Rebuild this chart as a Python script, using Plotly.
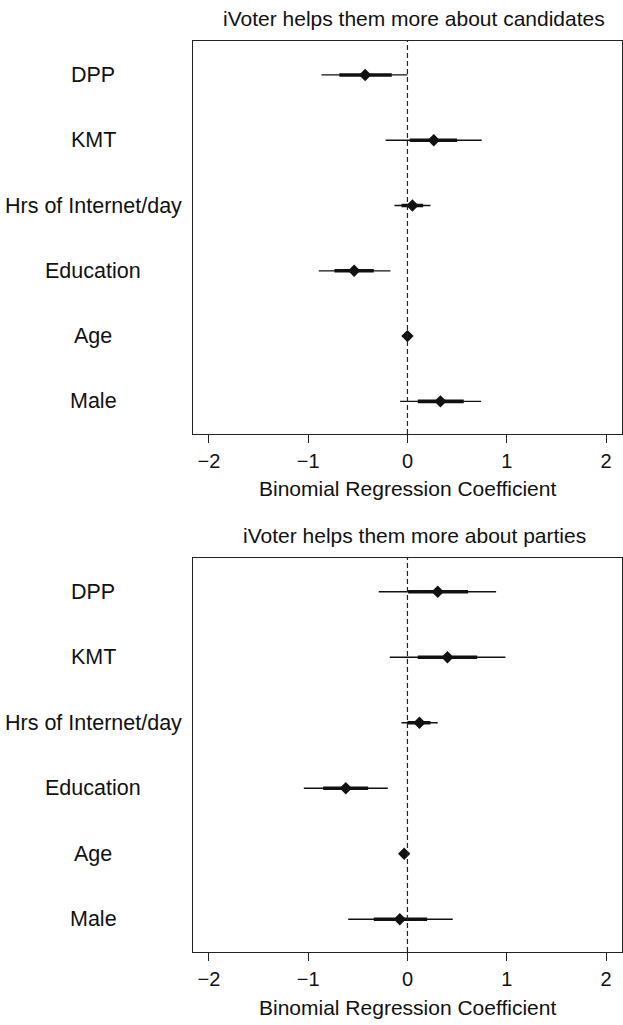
import plotly.graph_objects as go

# Row labels (top to bottom)
variables = ["DPP", "KMT", "Hrs of Internet/day", "Education", "Age", "Male"]

# Panel 1: iVoter helps them more about candidates
cand_coef = [-0.426, 0.265, 0.050, -0.537, 0.000, 0.332]
cand_lo95 = [-0.866, -0.220, -0.131, -0.893, -0.020, -0.074]
cand_hi95 = [0.000, 0.748, 0.232, -0.171, 0.020, 0.742]
cand_lo50 = [-0.686, 0.023, -0.060, -0.735, -0.010, 0.104]
cand_hi50 = [-0.158, 0.500, 0.158, -0.339, 0.010, 0.567]

# Panel 2: iVoter helps them more about parties
part_coef = [0.305, 0.403, 0.121, -0.621, -0.033, -0.077]
part_lo95 = [-0.289, -0.178, -0.060, -1.044, -0.065, -0.597]
part_hi95 = [0.893, 0.987, 0.305, -0.198, 0.000, 0.456]
part_lo50 = [0.007, 0.104, 0.000, -0.849, -0.050, -0.339]
part_hi50 = [0.611, 0.702, 0.232, -0.396, -0.015, 0.198]

titles = ["iVoter helps them more about candidates", "iVoter helps them more about parties"]
x_title = "Binomial Regression Coefficient"
x_ticks = [-2, -1, 0, 1, 2]

W, H = 623, 1025
FONT = "Liberation Sans, Arial, Helvetica, sans-serif"

fig = go.Figure()

panels = [
    (cand_coef, cand_lo95, cand_hi95, cand_lo50, cand_hi50),
    (part_coef, part_lo95, part_hi95, part_lo50, part_hi50),
]
# pixel geometry of the two boxes (top, bottom in px from top)
boxes = [(41, 434), (557.7, 952)]
xl, xr = 192.5, 621.7
title_y = [18, 535]
axtitle_y = [488, 1007]

for i, (coef, lo95, hi95, lo50, hi50) in enumerate(panels):
    xa = "x" if i == 0 else "x2"
    ya = "y" if i == 0 else "y2"
    # thin 95% interval
    fig.add_trace(go.Scatter(
        x=coef, y=variables, mode="markers", xaxis=xa, yaxis=ya,
        marker=dict(size=0.1, color="rgba(0,0,0,0)"),
        error_x=dict(type="data", symmetric=False,
                     array=[h - c for h, c in zip(hi95, coef)],
                     arrayminus=[c - l for c, l in zip(coef, lo95)],
                     width=0, thickness=1.3, color="#111"),
        showlegend=False, hoverinfo="skip"))
    # thick 50% interval
    fig.add_trace(go.Scatter(
        x=coef, y=variables, mode="markers", xaxis=xa, yaxis=ya,
        marker=dict(size=0.1, color="rgba(0,0,0,0)"),
        error_x=dict(type="data", symmetric=False,
                     array=[h - c for h, c in zip(hi50, coef)],
                     arrayminus=[c - l for c, l in zip(coef, lo50)],
                     width=0, thickness=3.6, color="#111"),
        showlegend=False, hoverinfo="skip"))
    # point estimate
    fig.add_trace(go.Scatter(
        x=coef, y=variables, mode="markers", xaxis=xa, yaxis=ya,
        marker=dict(symbol="diamond", size=9.5, color="#111", line=dict(width=0)),
        showlegend=False))

    top, bot = boxes[i]
    ydom = [(H - bot) / H, (H - top) / H]
    xdom = [xl / W, xr / W]
    axis_common = dict(showline=True, mirror=True, linecolor="#222", linewidth=1.2,
                       showgrid=False, zeroline=False)
    xkey = "xaxis" if i == 0 else "xaxis2"
    ykey = "yaxis" if i == 0 else "yaxis2"
    fig.update_layout(**{
        xkey: dict(domain=xdom, range=[-2.165, 2.158], tickmode="array",
                   tickvals=x_ticks, ticktext=["\u2212" + str(-t) if t < 0 else str(t) for t in x_ticks],
                   ticks="outside", ticklen=8, tickwidth=1.2, tickcolor="#222",
                   tickfont=dict(family=FONT, size=20, color="#111"),
                   ticklabelstandoff=1,
                   anchor=ya, **axis_common),
        ykey: dict(domain=ydom, type="category",
                   categoryorder="array", categoryarray=variables[::-1],
                   range=[-0.5, 5.52], showticklabels=False, ticks="",
                   anchor=xa, **axis_common),
    })
    # dashed reference line at zero
    fig.add_shape(type="line", xref=xa, yref=ya + " domain", x0=0, x1=0, y0=0, y1=1,
                  line=dict(color="#222", width=1.2, dash="5px,3px"))
    # row labels (centered, R style)
    for v in variables:
        fig.add_annotation(x=93 / W, xref="paper", y=v, yref=ya, text=v,
                           showarrow=False, xanchor="center", yanchor="middle",
                           font=dict(family=FONT, size=21.5, color="#111"))
    # panel title
    fig.add_annotation(x=414 / W, xref="paper", y=1 - title_y[i] / H, yref="paper",
                       text=titles[i], showarrow=False, xanchor="center", yanchor="middle",
                       font=dict(family=FONT, size=21, color="#111"))
    # x axis title
    fig.add_annotation(x=407.5 / W, xref="paper", y=1 - axtitle_y[i] / H, yref="paper",
                       text=x_title, showarrow=False, xanchor="center", yanchor="middle",
                       font=dict(family=FONT, size=21, color="#111"))

fig.update_layout(width=W, height=H, margin=dict(l=0, r=0, t=0, b=0),
                  paper_bgcolor="white", plot_bgcolor="white",
                  font=dict(family=FONT, color="#111"))

fig.write_html("out.html")
